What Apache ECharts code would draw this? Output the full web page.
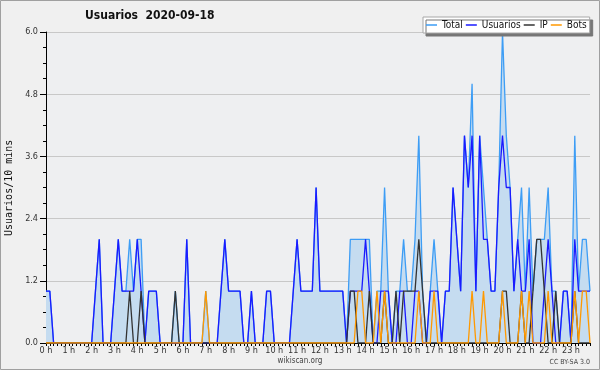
<!DOCTYPE html>
<html><head><meta charset="utf-8">
<script src="https://cdn.jsdelivr.net/npm/echarts/dist/echarts.min.js"></script>
<style>html,body{margin:0;padding:0;background:#f0f0f0}#c{width:600px;height:370px}</style>
</head><body><div id="c"></div>
<script>
const hourLabels = ['0 h','1 h','2 h','3 h','4 h','5 h','6 h','7 h','8 h','9 h','10 h','11 h','12 h','13 h','14 h','15 h','16 h','17 h','18 h','19 h','20 h','21 h','22 h','23 h'];
const yTicks = [0, 1.2, 2.4, 3.6, 4.8, 6.0];
const seriesNames = ['Total', 'Usuarios', 'IP', 'Bots'];
// values per 10 minutes, 144 slots
const total = [
 1,1,0,0,0,0,0,0,0,0,0,0, 0,1,2,0,0,0,1,2,1,1,2,1, 2,2,0,1,1,1,0,0,0,0,1,0,
 0,2,0,0,0,0,1,0,0,0,1,2, 1,1,1,1,0,0,1,0,0,0,1,1, 0,0,0,0,0,1,2,1,1,1,1,3,
 1,1,1,1,1,1,1,0,2,2,2,2, 2,2,0,1,1,3,1,0,1,1,2,1, 1,2,4,1,0,1,2,1,0,1,1,3,
 2,1,4,3,5,1,4,3,2,1,1,3, 6,4,3,1,2,3,1,3,1,2,2,2, 3,1,1,0,1,1,0,4,1,2,2,1];
const usuarios = [
 1,1,0,0,0,0,0,0,0,0,0,0, 0,1,2,0,0,0,1,2,1,1,1,1, 2,1,0,1,1,1,0,0,0,0,0,0,
 0,2,0,0,0,0,0,0,0,0,1,2, 1,1,1,1,0,0,1,0,0,0,1,1, 0,0,0,0,0,1,2,1,1,1,1,3,
 1,1,1,1,1,1,1,0,1,1,1,1, 2,1,0,0,1,1,1,0,0,1,1,0, 0,1,1,0,0,1,1,1,0,1,1,3,
 2,1,4,3,4,1,4,2,2,1,1,3, 4,3,3,1,2,1,1,2,0,0,0,1, 2,1,0,0,1,1,0,2,1,1,1,1];
const ip = [
 0,0,0,0,0,0,0,0,0,0,0,0, 0,0,0,0,0,0,0,0,0,0,1,0, 0,1,0,0,0,0,0,0,0,0,1,0,
 0,0,0,0,0,0,0,0,0,0,0,0, 0,0,0,0,0,0,0,0,0,0,0,0, 0,0,0,0,0,0,0,0,0,0,0,0,
 0,0,0,0,0,0,0,0,1,1,0,0, 0,1,0,0,0,1,0,0,1,0,1,1, 1,1,2,1,0,0,0,0,0,0,0,0,
 0,0,0,0,0,0,0,0,0,0,0,0, 1,1,0,0,0,1,0,0,1,2,2,1, 0,0,1,0,0,0,0,1,0,0,0,0];
const bots = [
 0,0,0,0,0,0,0,0,0,0,0,0, 0,0,0,0,0,0,0,0,0,0,0,0, 0,0,0,0,0,0,0,0,0,0,0,0,
 0,0,0,0,0,0,1,0,0,0,0,0, 0,0,0,0,0,0,0,0,0,0,0,0, 0,0,0,0,0,0,0,0,0,0,0,0,
 0,0,0,0,0,0,0,0,0,0,1,1, 0,0,0,1,0,1,0,0,0,0,0,0, 0,0,1,0,0,0,1,0,0,0,0,0,
 0,0,0,0,1,0,0,1,0,0,0,0, 1,0,0,0,0,1,0,1,0,0,0,0, 1,0,0,0,0,0,0,1,0,1,1,0];

const slots = [];
for (let h = 0; h < 24; h++) for (let m = 0; m < 60; m += 10) slots.push(h + ':' + (m < 10 ? '0' : '') + m);

const FONT = '"DejaVu Sans Condensed", "DejaVu Sans", sans-serif';
const chart = echarts.init(document.getElementById('c'), null, {renderer: 'canvas'});
const lw = 1.3;
chart.setOption({
  animation: false,
  backgroundColor: '#f0f0f0',
  textStyle: {fontFamily: FONT},
  title: {
    text: 'Usuarios  2020-09-18', left: 85, top: 10, padding: 0,
    textStyle: {fontFamily: FONT, fontWeight: 'bold', fontSize: 12, color: '#111'}
  },
  legend: {
    data: seriesNames, left: 423, top: 17, width: 175, padding: [3, 3, 3, 3], itemGap: 3,
    itemWidth: 11, itemHeight: 1.5, icon: 'rect',
    backgroundColor: '#ffffff', borderColor: '#a8a8a8', borderWidth: 1,
    shadowColor: '#777777', shadowBlur: 0, shadowOffsetX: 3, shadowOffsetY: 3,
    textStyle: {fontFamily: FONT, fontSize: 10, color: '#111'}
  },
  grid: {left: 46, right: 10, top: 32, bottom: 27, show: true, backgroundColor: '#eeeff1', borderWidth: 0},
  xAxis: {
    type: 'category', data: slots, boundaryGap: false,
    axisLine: {lineStyle: {color: '#000', width: 1}},
    axisTick: {interval: 0, length: 3, lineStyle: {color: '#000'}},
    axisLabel: {
      interval: (i) => i % 6 === 0,
      formatter: (v, i) => hourLabels[i / 6],
      fontSize: 9, color: '#333', margin: 3
    },
    splitLine: {show: false}
  },
  yAxis: {
    type: 'value', min: yTicks[0], max: yTicks[yTicks.length - 1], interval: 1.2,
    axisLine: {show: true, lineStyle: {color: '#000', width: 1}},
    axisTick: {show: true, length: 6, lineStyle: {color: '#000'}},
    minorTick: {show: true, splitNumber: 4, length: 3, lineStyle: {color: '#000'}},
    axisLabel: {formatter: (v) => v.toFixed(1), fontSize: 9, color: '#333', margin: 8},
    splitLine: {lineStyle: {color: '#c8c8c8', width: 1}}
  },
  graphic: [
    {type: 'text', rotation: Math.PI / 2, x: 4, y: 236,
     style: {text: 'Usuarios/10 mins', font: '10px "DejaVu Sans Mono"', fill: '#111'}},
    {type: 'text', x: 300, y: 361, style: {text: 'wikiscan.org', font: '8px ' + FONT, fill: '#444', textAlign: 'center', textVerticalAlign: 'middle'}},
    {type: 'text', x: 590, y: 362, style: {text: 'CC BY-SA 3.0', font: '7px ' + FONT, fill: '#444', textAlign: 'right', textVerticalAlign: 'middle'}},
    {type: 'rect', shape: {x: 0.5, y: 0.5, width: 599, height: 369}, style: {fill: 'none', stroke: '#a0a0a0', lineWidth: 1}, silent: true}
  ],
  series: [
    {name: 'Total', type: 'line', data: total, symbol: 'none', color: '#3d9df5',
     lineStyle: {width: lw, color: '#3d9df5'}, areaStyle: {color: '#c5dcf0', opacity: 1}},
    {name: 'Usuarios', type: 'line', data: usuarios, symbol: 'none', color: '#1a1aff',
     lineStyle: {width: lw, color: '#1a1aff'}},
    {name: 'IP', type: 'line', data: ip, symbol: 'none', color: '#333333',
     lineStyle: {width: lw, color: '#333333'}},
    {name: 'Bots', type: 'line', data: bots, symbol: 'none', color: '#ff9900',
     lineStyle: {width: lw, color: '#ff9900'}}
  ]
});
</script></body></html>
